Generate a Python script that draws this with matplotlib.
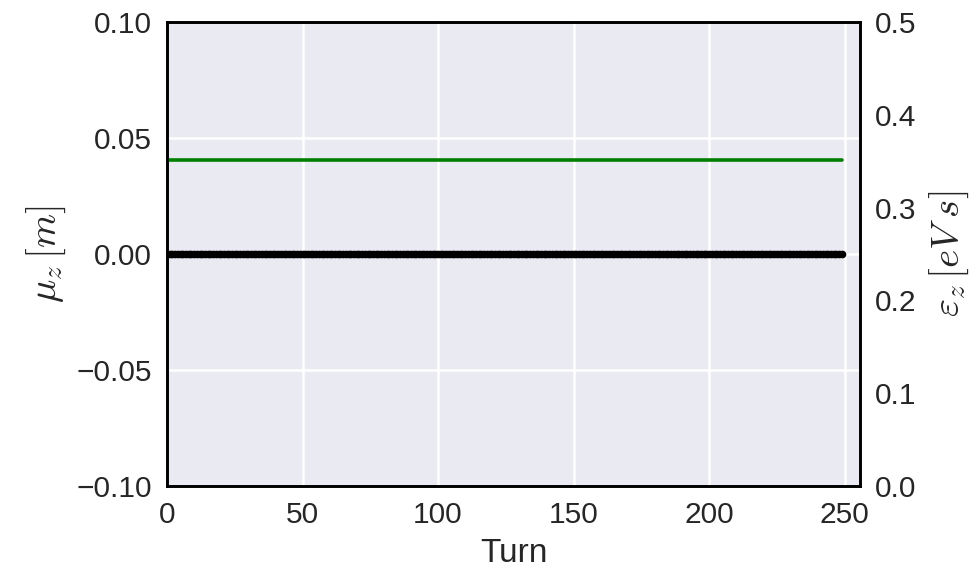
import numpy as np
import matplotlib
matplotlib.use("Agg")
import matplotlib.pyplot as plt
import seaborn as sns

sns.set_style("darkgrid")
plt.rcParams["font.family"] = ["Liberation Sans", "DejaVu Sans"]
plt.rcParams["mathtext.fontset"] = "cm"

# data (both quantities stay flat over all turns)
turns = np.arange(0, 250)
mu_z = np.zeros(len(turns))            # bunch centre [m]
eps_z = np.full(len(turns), 0.351)     # emittance [eV s]

TEXT = "#262626"

fig = plt.figure(figsize=(9.79, 5.70), dpi=100)
ax = fig.add_axes([0.1706, 0.1474, 0.7079, 0.8140])
ax2 = ax.twinx()

ax.plot(turns, mu_z, color="black", lw=3.5, marker="o", ms=4.5, zorder=3)
ax2.plot(turns, eps_z, color="#008000", lw=2.6)

ax.set_xlim(0, 255.7)
ax.set_ylim(-0.1, 0.1)
ax2.set_ylim(0.0, 0.5)
ax.set_xticks([0, 50, 100, 150, 200, 250])
ax.set_yticks([-0.10, -0.05, 0.00, 0.05, 0.10])
ax.set_yticklabels(["\u22120.10", "\u22120.05", "0.00", "0.05", "0.10"])
ax2.set_yticks([0.0, 0.1, 0.2, 0.3, 0.4, 0.5])
ax2.grid(False)
ax.grid(True, color="white", lw=1.8)

ax.set_xlabel("Turn", fontsize=24, color=TEXT, labelpad=6)
ax.set_ylabel(r"$\mu_z\,[m]$", fontsize=28, color=TEXT, labelpad=6)
ax2.set_ylabel(r"$\varepsilon_z\,[eV\;s]$", fontsize=28, color=TEXT, labelpad=8)

for a in (ax, ax2):
    a.tick_params(labelsize=21.5, colors=TEXT, length=0, pad=11)
    for s in a.spines.values():
        s.set_visible(True)
        s.set_color("black")
        s.set_linewidth(1.9)

fig.savefig("out.png", dpi=100)
